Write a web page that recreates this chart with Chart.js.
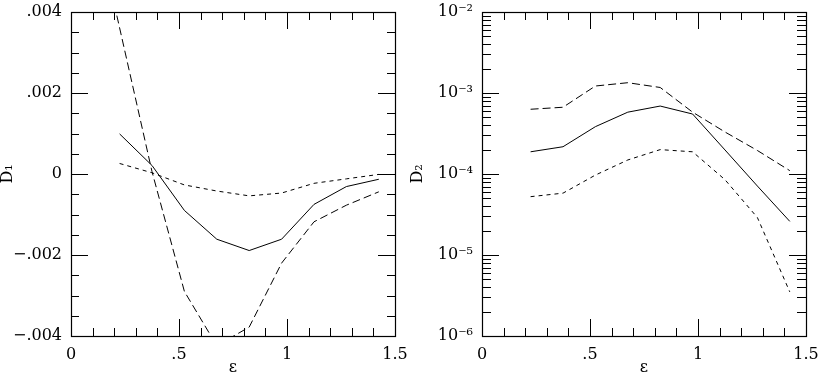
<!DOCTYPE html>
<html>
<head>
<meta charset="utf-8">
<script src="https://cdn.jsdelivr.net/npm/chart.js@4.4.0/dist/chart.umd.min.js"></script>
<style>
  html, body { margin: 0; padding: 0; background: #fff; }
  #wrap { position: relative; width: 818px; height: 376px; }
  canvas { position: absolute; top: 0; }
  #left { left: 0; }
  #right { left: 410px; }
</style>
</head>
<body>
<div id="wrap">
  <canvas id="left" width="410" height="376"></canvas>
  <canvas id="right" width="408" height="376"></canvas>
</div>
<script>
// epsilon values (long-dashed D1 curve starts a bit earlier)
const eps = [0.225, 0.375, 0.525, 0.675, 0.825, 0.975, 1.125, 1.275, 1.425];
const epsLong = [0.2, 0.375, 0.525, 0.675, 0.825, 0.975, 1.125, 1.275, 1.425];

// D1 panel
const d1Solid = [0.00099, 0.00021, -0.0009, -0.00161, -0.00189, -0.00161, -0.00075, -0.00031, -0.00013];
const d1Short = [0.00026, 0.00003, -0.00027, -0.00042, -0.00054, -0.00047, -0.00023, -0.00012, -0.00001];
const d1Long = [0.0042, 0.00006, -0.0029, -0.00424, -0.00378, -0.0022, -0.00118, -0.00077, -0.00044];

// D2 panel (log scale)
const d2Solid = [1.88e-4, 2.17e-4, 3.84e-4, 5.8e-4, 6.9e-4, 5.5e-4, 1.98e-4, 7.1e-5, 2.6e-5];
const d2Long = [6.3e-4, 6.67e-4, 1.22e-3, 1.34e-3, 1.17e-3, 5.8e-4, 3.3e-4, 1.95e-4, 1.1e-4];
const d2Short = [5.25e-5, 5.8e-5, 9.7e-5, 1.49e-4, 2.0e-4, 1.88e-4, 8.5e-5, 2.9e-5, 3.5e-6];

// tick labels
const xTicks = [0, 0.5, 1, 1.5];
const xTickLabels = ['0', '.5', '1', '1.5'];
const d1Ticks = [-0.004, -0.002, 0, 0.002, 0.004];
const d1TickLabels = ['\u2212.004', '\u2212.002', '0', '.002', '.004'];
const d2Exponents = [-6, -5, -4, -3, -2];
const d2TickLabels = ['10\u207B\u2076', '10\u207B\u2075', '10\u207B\u2074', '10\u207B\u00B3', '10\u207B\u00B2'];

const FONT = "'DejaVu Serif', 'Liberation Serif', serif";
const near = (a, b, tol) => Math.abs(a - b) < tol;

// minor tick positions
const xMinor = [];
for (let k = 0; k <= 15; k++) xMinor.push(k / 10);
const d1Minor = [];
for (let k = -8; k <= 8; k++) d1Minor.push(k * 0.0005);
const d2Minor = [];
for (let e = -6; e <= -2; e++) {
  for (let m = 1; m <= 9; m++) {
    if (e === -2 && m > 1) break;
    d2Minor.push(m * Math.pow(10, e));
  }
}

const isDecade = v => near(Math.log10(v), Math.round(Math.log10(v)), 1e-6);
const isHalf = v => near(v * 2, Math.round(v * 2), 1e-9);

// keep the layout from growing for label overhang
function fixBox(s, size) {
  if (s.isHorizontal()) s.height = size; else s.width = size;
  s.paddingTop = s.paddingBottom = s.paddingLeft = s.paddingRight = 0;
}

// inner ticks on all four sides + frame
function innerTicks(isMajorX, isMajorY, minorLen) {
  return {
    id: 'innerTicks',
    afterDraw(chart) {
      const { ctx, chartArea: a, scales: { x, y } } = chart;
      ctx.save();
      ctx.strokeStyle = '#000';
      ctx.lineWidth = 1;
      ctx.beginPath();
      x.ticks.forEach(t => {
        const px = Math.round(x.getPixelForValue(t.value)) + 0.5;
        const len = isMajorX(t.value) ? 17 : 8;
        ctx.moveTo(px, a.bottom); ctx.lineTo(px, a.bottom - len);
        ctx.moveTo(px, a.top); ctx.lineTo(px, a.top + len);
      });
      y.ticks.forEach(t => {
        const py = Math.round(y.getPixelForValue(t.value)) + 0.5;
        const len = isMajorY(t.value) ? 17 : minorLen;
        ctx.moveTo(a.left, py); ctx.lineTo(a.left + len, py);
        ctx.moveTo(a.right, py); ctx.lineTo(a.right - len, py);
      });
      ctx.stroke();
      ctx.lineWidth = 1.2;
      ctx.strokeRect(a.left + 0.5, a.top + 0.5, a.right - a.left, a.bottom - a.top);
      ctx.restore();
    }
  };
}

function line(xs, ys, dash) {
  return {
    data: xs.map((x, i) => ({ x, y: ys[i] })),
    borderColor: '#000',
    borderWidth: 1,
    borderDash: dash,
    pointRadius: 0,
    tension: 0,
    clip: 0
  };
}

function xScale() {
  return {
    type: 'linear',
    min: 0,
    max: 1.5,
    afterFit: s => fixBox(s, 40),
    afterBuildTicks: s => { s.ticks = xMinor.map(v => ({ value: v })); },
    grid: { display: false, drawTicks: false },
    border: { display: false },
    ticks: {
      autoSkip: false,
      maxRotation: 0,
      padding: 9,
      color: '#000',
      font: { family: FONT, size: 16 },
      callback: v => {
        const i = xTicks.findIndex(t => near(t, v, 1e-9));
        return i >= 0 ? xTickLabels[i] : '';
      }
    },
    title: {
      display: true,
      text: '\u03B5',
      color: '#000',
      padding: 0,
      font: { family: FONT, size: 16, lineHeight: 1 }
    }
  };
}

function yTitle(text) {
  return {
    display: true,
    text,
    color: '#000',
    padding: 0,
    font: { family: FONT, size: 16, lineHeight: 1 }
  };
}

const baseOptions = {
  responsive: false,
  animation: false,
  devicePixelRatio: 1,
  plugins: { legend: { display: false }, tooltip: { enabled: false } }
};

new Chart(document.getElementById('left'), {
  type: 'line',
  data: {
    datasets: [
      line(eps, d1Solid, []),
      line(eps, d1Short, [4, 4]),
      line(epsLong, d1Long, [8, 4])
    ]
  },
  options: {
    ...baseOptions,
    layout: { padding: { top: 12, right: 15, bottom: 0, left: 0 } },
    scales: {
      x: xScale(),
      y: {
        type: 'linear',
        min: -0.004,
        max: 0.004,
        afterFit: s => fixBox(s, 71),
        afterBuildTicks: s => { s.ticks = d1Minor.map(v => ({ value: v })); },
        grid: { display: false, drawTicks: false },
        border: { display: false },
        ticks: {
          autoSkip: false,
          padding: 9,
          color: '#000',
          font: { family: FONT, size: 16 },
          callback: v => {
            const i = d1Ticks.findIndex(t => near(t, v, 1e-9));
            return i >= 0 ? d1TickLabels[i] : '';
          }
        },
        title: yTitle('D\u2081')
      }
    }
  },
  plugins: [innerTicks(isHalf, v => near(v / 0.002, Math.round(v / 0.002), 1e-6), 8)]
});

new Chart(document.getElementById('right'), {
  type: 'line',
  data: {
    datasets: [
      line(eps, d2Solid, []),
      line(eps, d2Long, [8, 4]),
      line(eps, d2Short, [4, 4])
    ]
  },
  options: {
    ...baseOptions,
    layout: { padding: { top: 12, right: 12, bottom: 0, left: 0 } },
    scales: {
      x: xScale(),
      y: {
        type: 'logarithmic',
        min: 1e-6,
        max: 1e-2,
        afterFit: s => fixBox(s, 72),
        afterBuildTicks: s => { s.ticks = d2Minor.map(v => ({ value: v })); },
        grid: { display: false, drawTicks: false },
        border: { display: false },
        ticks: {
          autoSkip: false,
          padding: 9,
          color: '#000',
          font: { family: FONT, size: 16 },
          callback: v => {
            if (!isDecade(v)) return '';
            const i = d2Exponents.indexOf(Math.round(Math.log10(v)));
            return i >= 0 ? d2TickLabels[i] : '';
          }
        },
        title: yTitle('D\u2082')
      }
    }
  },
  plugins: [innerTicks(isHalf, isDecade, 9)]
});
</script>
</body>
</html>
